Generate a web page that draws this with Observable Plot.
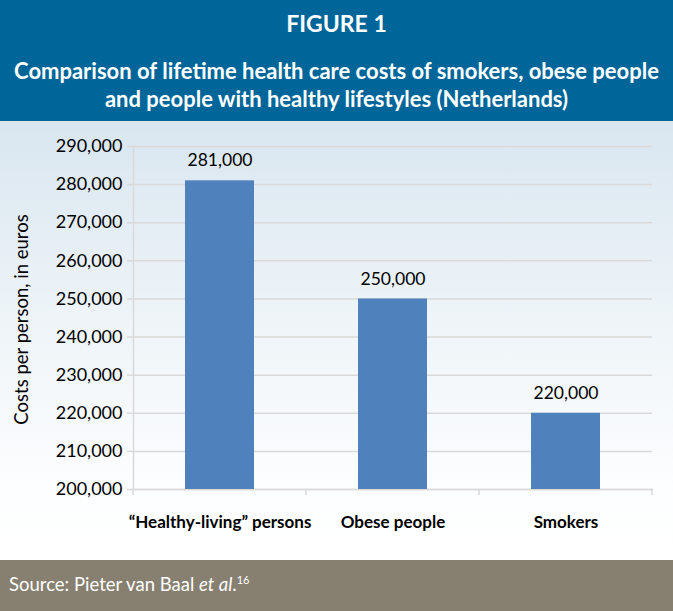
<!DOCTYPE html>
<html>
<head>
<meta charset="utf-8">
<script src="https://cdn.jsdelivr.net/npm/d3@7"></script>
<script src="https://cdn.jsdelivr.net/npm/@observablehq/plot@0.6"></script>
<style>
  html, body { margin: 0; padding: 0; width: 673px; height: 611px; overflow: hidden; font-family: Lato, "Open Sans", sans-serif; }
  #header { background: #006699; color: #fff; height: 121px; text-align: center; font-weight: bold; }
  #fig { font-size: 23px; padding-top: 9px; line-height: 28px; }
  #title { font-size: 22px; line-height: 28px; margin-top: 20px; white-space: nowrap; }
  #body { height: 439px; background: linear-gradient(180deg, #d9e6f0 0%, #eef4f8 45%, #fdfeff 85%, #ffffff 100%); }
  #footer { background: #878070; color: #fff; height: 51px; font-size: 18.5px; padding-left: 9px; box-sizing: border-box; padding-top: 13px; }
  #footer sup { font-size: 11px; }
  svg { display: block; }
</style>
</head>
<body>
<div id="header">
  <div id="fig">FIGURE 1</div>
  <div id="title">Comparison of lifetime health care costs of smokers, obese people<br>and people with healthy lifestyles (Netherlands)</div>
</div>
<div id="body"></div>
<div id="footer">Source: Pieter van Baal <i>et al</i>.<sup>16</sup></div>
<script>
const categories = ["“Healthy-living” persons", "Obese people", "Smokers"];
const costs = [281000, 250000, 220000];
const yTicks = [200000, 210000, 220000, 230000, 240000, 250000, 260000, 270000, 280000, 290000];

const data = categories.map((c, i) => ({category: c, cost: costs[i]}));
const fmt = d3.format(",");
const grey = "#d9d9d9";

const plot = Plot.plot({
  width: 673,
  height: 439,
  marginTop: 25,
  marginBottom: 71,
  marginLeft: 133,
  marginRight: 21,
  style: {background: "transparent", fontFamily: "Lato, 'Open Sans', sans-serif", color: "#000"},
  x: {domain: categories, paddingInner: 0.6, paddingOuter: 0.3, label: null},
  y: {domain: [200000, 290000], label: null},
  marks: [
    Plot.gridY(yTicks, {stroke: grey, strokeOpacity: 1, strokeWidth: 1.5}),
    Plot.axisY(yTicks, {tickFormat: fmt, tickSize: 6, stroke: grey, strokeWidth: 1.5, tickPadding: 5, fontSize: 18, fill: "#000"}),
    Plot.frame({anchor: "left", stroke: grey, strokeWidth: 1.5}),
    Plot.frame({anchor: "bottom", stroke: grey, strokeWidth: 1.5}),
    Plot.barY(data, {x: "category", y1: 200000, y2: "cost", fill: "#4f81bd"}),
    Plot.text(data, {x: "category", y: "cost", text: d => fmt(d.cost), dy: -20, fontSize: 17.5, fill: "#000"}),
    Plot.axisX({tickSize: 0, tickPadding: 26, fontSize: 17, fontWeight: "bold", fill: "#000"})
  ]
});

// x-axis tick marks at band boundaries, from the x scale
const xs = plot.scale("x");
const ys = plot.scale("y");
const step = xs.step, bw = xs.bandwidth;
const bounds = categories.map(c => xs.apply(c) + bw / 2 - step / 2);
bounds.push(xs.apply(categories[categories.length - 1]) + bw / 2 + step / 2);
const yb = ys.apply(200000);
const svg = d3.select(plot);
svg.append("g").selectAll("line").data(bounds).join("line")
  .attr("x1", d => d).attr("x2", d => d)
  .attr("y1", yb).attr("y2", yb + 6)
  .attr("stroke", grey).attr("stroke-width", 1.5);

// y axis label
svg.append("text")
  .attr("transform", `translate(28, ${(ys.apply(200000) + ys.apply(290000)) / 2 + 2}) rotate(-90)`)
  .attr("text-anchor", "middle")
  .attr("font-size", 18.5)
  .attr("fill", "#000")
  .text("Costs per person, in euros");

document.getElementById("body").appendChild(plot);
</script>
</body>
</html>
